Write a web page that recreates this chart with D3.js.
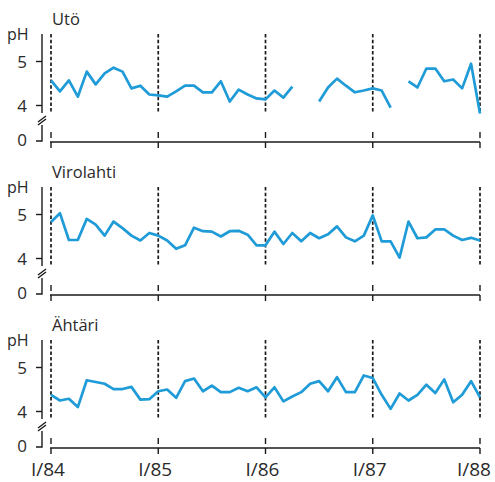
<!DOCTYPE html>
<meta charset="utf-8">
<style>
body { margin: 0; background: #fff; }
text { font-family: "Open Sans", sans-serif; fill: #2a2a2a; }
.ph { fill: none; stroke: #1f9bd7; stroke-width: 2.7; stroke-linejoin: round; }
.ax { stroke: #1a1a1a; stroke-width: 1.4; fill: none; }
.year { stroke: #1a1a1a; stroke-width: 1.7; stroke-dasharray: 3.5 2.2; }
</style>
<body>
<script src="https://d3js.org/d3.v7.min.js"></script>
<script>
// monthly pH values, Jan 1984 .. Jan 1988 (null = no sample)
var uto = [4.57, 4.32, 4.57, 4.20, 4.77, 4.48, 4.73, 4.86, 4.77, 4.39, 4.45, 4.25,
           4.23, 4.20, 4.32, 4.45, 4.45, 4.30, 4.30, 4.55, 4.09, 4.36, 4.25, 4.16,
           4.14, 4.34, 4.18, 4.43, null, null, 4.09, 4.41, 4.61, 4.45, 4.30, 4.34,
           4.39, 4.34, 3.95, null, 4.55, 4.41, 4.84, 4.84, 4.55, 4.59, 4.39, 4.95,
           3.82];
var virolahti = [4.83, 5.03, 4.42, 4.42, 4.90, 4.77, 4.52, 4.84, 4.69, 4.52, 4.41, 4.58,
                 4.52, 4.41, 4.22, 4.30, 4.70, 4.62, 4.61, 4.50, 4.62, 4.63, 4.54, 4.30,
                 4.30, 4.61, 4.33, 4.58, 4.39, 4.58, 4.46, 4.55, 4.73, 4.48, 4.39, 4.52,
                 4.98, 4.39, 4.39, 4.02, 4.84, 4.46, 4.48, 4.66, 4.66, 4.52, 4.42, 4.47,
                 4.41];
var ahtari = [4.38, 4.25, 4.29, 4.10, 4.71, 4.67, 4.63, 4.51, 4.51, 4.56, 4.27, 4.28,
              4.46, 4.50, 4.31, 4.69, 4.75, 4.46, 4.59, 4.44, 4.44, 4.54, 4.46, 4.55,
              4.32, 4.55, 4.23, 4.34, 4.44, 4.63, 4.69, 4.46, 4.78, 4.44, 4.44, 4.82,
              4.76, 4.38, 4.06, 4.41, 4.25, 4.38, 4.61, 4.42, 4.73, 4.21, 4.38, 4.69,
              4.32];
var stations = ["Utö", "Virolahti", "Ähtäri"];
var yearLabels = ["I/84", "I/85", "I/86", "I/87", "I/88"];
var yTicks = [4, 5];

var series = [uto, virolahti, ahtari];

var svg = d3.select("body").append("svg")
    .attr("width", 495)
    .attr("height", 482);

// months since Jan 1984
var x = d3.scaleLinear().domain([0, 48]).range([51, 480]);
var yearPos = yearLabels.map(function(d, i) { return i * 12; });

var step = 153;

series.forEach(function(data, p) {
  var g = svg.append("g").attr("transform", "translate(0," + (p * step) + ")");
  var y = d3.scaleLinear().domain([4, 5]).range([105.5, 61.5]);
  var zeroY = 141;

  // station title
  g.append("text")
      .attr("x", 52).attr("y", 25)
      .style("font-size", "16.5px")
      .text(stations[p]);
  g.append("text")
      .attr("x", 7).attr("y", 40)
      .style("font-size", "16px")
      .text("pH");

  // y axis upper part
  g.append("line").attr("class", "ax")
      .attr("x1", 42).attr("x2", 42).attr("y1", 34).attr("y2", 113);
  g.selectAll(".yt").data(yTicks).enter().append("line")
      .attr("class", "ax")
      .attr("x1", 36).attr("x2", 42)
      .attr("y1", function(d) { return y(d); })
      .attr("y2", function(d) { return y(d); });
  g.selectAll(".yl").data(yTicks).enter().append("text")
      .attr("x", 27)
      .attr("y", function(d) { return y(d); })
      .attr("dy", "0.36em")
      .attr("text-anchor", "end")
      .style("font-size", "17px")
      .text(function(d) { return d; });

  // break marks
  [0, 3].forEach(function(o) {
    g.append("line").attr("class", "ax")
        .attr("x1", 38).attr("x2", 46)
        .attr("y1", 122 + o).attr("y2", 116 + o);
  });

  // lower part with 0
  g.append("path").attr("class", "ax")
      .attr("d", "M42," + 125 + "V" + zeroY + "H36");
  g.append("text")
      .attr("x", 27).attr("y", zeroY)
      .attr("dy", "0.3em")
      .attr("text-anchor", "end")
      .style("font-size", "17px")
      .text("0");

  // baseline
  g.append("line").attr("class", "ax")
      .attr("x1", 50).attr("x2", 480).attr("y1", 142).attr("y2", 142);
  g.selectAll(".bt").data(yearPos).enter().append("line")
      .attr("class", "ax")
      .attr("x1", function(d) { return x(d); })
      .attr("x2", function(d) { return x(d); })
      .attr("y1", 142).attr("y2", 148);
  g.selectAll(".bs").data(yearPos).enter().append("line")
      .attr("class", "ax")
      .attr("x1", function(d) { return x(d); })
      .attr("x2", function(d) { return x(d); })
      .attr("y1", 132).attr("y2", 138);

  // dashed year lines
  g.selectAll(".year").data(yearPos).enter().append("line")
      .attr("class", "year")
      .attr("x1", function(d) { return x(d); })
      .attr("x2", function(d) { return x(d); })
      .attr("y1", 34).attr("y2", 113);

  var line = d3.line()
      .defined(function(d) { return d != null; })
      .x(function(d, i) { return x(i); })
      .y(function(d) { return y(d); });

  g.append("path").attr("class", "ph").attr("d", line(data));
});

// x labels
svg.selectAll(".xl").data(yearPos).enter().append("text")
    .attr("x", function(d) { return Math.min(x(d) - 3, 474); })
    .attr("y", 476)
    .attr("text-anchor", "middle")
    .style("font-size", "19px")
    .text(function(d, i) { return yearLabels[i]; });
</script>
</body>
